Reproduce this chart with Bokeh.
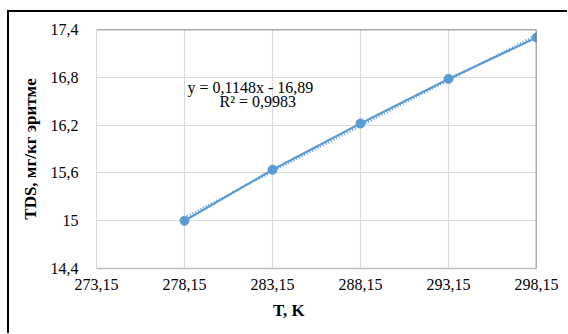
import numpy as np
from bokeh.plotting import figure
from bokeh.layouts import column, row
from bokeh.models import Range1d, FixedTicker, CustomJSTickFormatter, Span, Label, Spacer
from bokeh.embed import file_html
from bokeh.resources import INLINE

# Data
T_K = [278.15, 283.15, 288.15, 293.15, 298.15]
TDS = [15.0, 15.64, 16.22, 16.78, 17.30]
x_ticks = [273.15, 278.15, 283.15, 288.15, 293.15, 298.15]
y_ticks = [14.4, 15.0, 15.6, 16.2, 16.8, 17.4]
eq_text = "y = 0,1148x - 16,89"
r2_text = "R² = 0,9983"

BLUE = "#5b9bd5"
SERIF = "Liberation Serif"

p = figure(width=558, height=321, output_backend="svg", toolbar_location=None,
           x_range=Range1d(273.15, 298.15), y_range=Range1d(14.4, 17.4),
           min_border_left=87, min_border_right=31, min_border_top=17, min_border_bottom=65)
p.outline_line_color = None
p.background_fill_color = "white"
p.border_fill_color = "white"

p.xaxis.ticker = FixedTicker(ticks=x_ticks)
p.yaxis.ticker = FixedTicker(ticks=y_ticks)
p.xaxis.formatter = CustomJSTickFormatter(code="return tick.toFixed(2).replace('.', ',');")
p.yaxis.formatter = CustomJSTickFormatter(code="return (Math.round(tick*10)/10).toString().replace('.', ',');")

for ax in (p.xaxis, p.yaxis):
    ax.major_tick_line_color = None
    ax.minor_tick_line_color = None
    ax.major_label_text_font = SERIF
    ax.major_label_text_font_size = "16px"
    ax.major_label_text_color = "black"
p.xaxis.axis_line_color = "#bfbfbf"
p.xaxis.axis_line_width = 1.5
p.yaxis.axis_line_color = "#d9d9d9"
p.xaxis.major_label_standoff = 4
p.yaxis.major_label_standoff = 12

p.xaxis.axis_label = "T, K" + "\u00a0" * 13
p.xaxis.axis_label_text_font = SERIF
p.xaxis.axis_label_text_font_style = "bold"
p.xaxis.axis_label_text_font_size = "17px"
p.xaxis.axis_label_text_color = "black"
p.xaxis.axis_label_standoff = 8

p.yaxis.axis_label = "TDS, мг/кг эритме"
p.yaxis.axis_label_text_font = SERIF
p.yaxis.axis_label_text_font_style = "bold"
p.yaxis.axis_label_text_font_size = "17px"
p.yaxis.axis_label_text_color = "black"
p.yaxis.axis_label_standoff = 8

p.xgrid.grid_line_color = "#d9d9d9"
p.ygrid.grid_line_color = "#d9d9d9"
p.xgrid.grid_line_width = 1.2
p.ygrid.grid_line_width = 1.2

p.add_layout(Span(location=17.4, dimension="width", line_color="#595959", line_width=1.5))
p.add_layout(Span(location=298.15, dimension="height", line_color="#595959", line_width=1.5))

# Linear trendline (least-squares fit of the data)
k, b = np.polyfit(T_K, TDS, 1)
tx = [T_K[0], T_K[-1]]
ty = [k * v + b for v in tx]
p.line(tx, ty, line_color=BLUE, line_width=2, line_dash="1 2")
p.line(T_K, TDS, line_color=BLUE, line_width=2.25)
p.scatter(T_K, TDS, size=9, fill_color=BLUE, line_color=BLUE)

p.add_layout(Label(x=278.32, y=16.67, text=eq_text, text_font=SERIF, text_font_size="16px",
                   text_baseline="middle", text_color="black"))
p.add_layout(Label(x=280.14, y=16.49, text=r2_text, text_font=SERIF, text_font_size="16px",
                   text_baseline="middle", text_color="black"))

# outer chart frame (left and top edges visible in the cropped original)
black = {"background-color": "black"}
top_bar = Spacer(width=560, height=2, styles=black)
left_bar = Spacer(width=2, height=321, styles=black)
layout = row(Spacer(width=7, height=333),
             column(Spacer(width=560, height=10), top_bar, row(left_bar, p)))

open("out.html", "w").write(file_html(layout, INLINE))
